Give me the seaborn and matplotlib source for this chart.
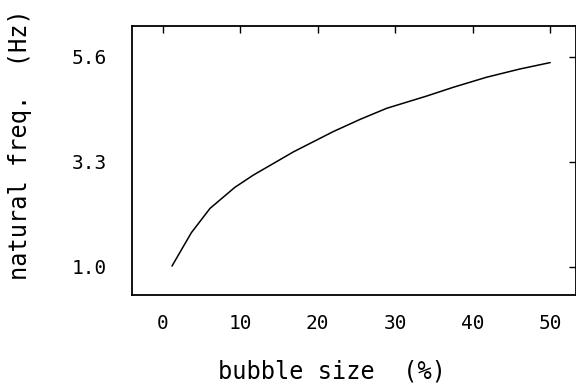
import matplotlib

matplotlib.use('Agg')
import matplotlib.pyplot as plt
import pandas as pd
import seaborn as sns

# values
bubble_size = [1.2, 2.5, 3.7, 6.1, 9.3, 11.7, 16.9, 22.0, 25.5, 28.9, 34.1, 37.5, 41.8, 46.1, 50.0]
natural_freq = [1.02, 1.40, 1.75, 2.28, 2.74, 3.01, 3.52, 3.96, 4.23, 4.47, 4.74, 4.93, 5.15, 5.33, 5.47]
x_ticks = [0, 10, 20, 30, 40, 50]
y_ticks = [1.0, 3.3, 5.6]
y_tick_labels = ['1.0', '3.3', '5.6']


def main():
    df = pd.DataFrame({'bubble size': bubble_size, 'natural freq': natural_freq})

    sns.set_style('white')
    plt.rcParams['font.family'] = ['DejaVu Sans Mono']

    fig = plt.figure(figsize=(5.76, 3.85), dpi=100)
    ax = fig.add_axes([132 / 576, 90 / 385, 444 / 576, 269 / 385])
    sns.lineplot(data=df, x='bubble size', y='natural freq', color='black', lw=1.1, ax=ax)

    ax.set_xlim(-3.96, 53.33)
    ax.set_ylim(0.387, 6.27)
    ax.set_xticks(x_ticks)
    ax.set_yticks(y_ticks)
    ax.set_yticklabels(y_tick_labels)
    ax.tick_params(direction='in', length=5, width=1, colors='black', labelsize=14,
                   top=True, right=True, pad=14)
    ax.tick_params(axis='y', pad=18)
    for s in ax.spines.values():
        s.set_color('black')
        s.set_linewidth(1.3)

    ax.set_xlabel('bubble size  (%)', fontsize=17, color='black')
    ax.set_ylabel('natural freq.  (Hz)', fontsize=17, color='black')
    ax.xaxis.set_label_coords(0.45, -0.24)
    ax.yaxis.set_label_coords(-0.226, 0.56)

    plt.savefig('out.png', dpi=100)
    plt.close()


if __name__ == '__main__':
    main()
